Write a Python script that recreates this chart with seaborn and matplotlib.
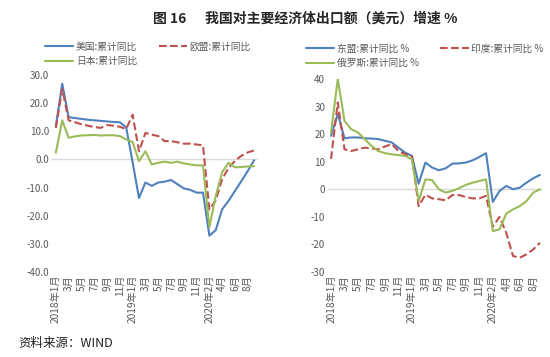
import numpy as np
import pandas as pd
import matplotlib
matplotlib.use('Agg')
import matplotlib.pyplot as plt
import seaborn as sns

sns.set_style('white')
plt.rcParams['font.family'] = ['Noto Sans CJK SC', 'DejaVu Sans']
plt.rcParams['axes.unicode_minus'] = False

# 月份（2020年1月与2月合并）
months = (['2018年1月'] + [f'{m}月' for m in range(2, 13)]
          + ['2019年1月'] + [f'{m}月' for m in range(2, 13)]
          + ['2020年2月'] + [f'{m}月' for m in range(3, 10)])

# 左图：美国、欧盟、日本 累计同比
us = [11.8, 26.9, 15.0, 14.7, 14.4, 14.1, 13.9, 13.7, 13.5, 13.3, 13.2, 11.4,
      -1.0, -13.7, -8.2, -9.4, -8.2, -7.9, -7.3, -8.8, -10.3, -10.8, -11.8, -11.8,
      -27.1, -25.1, -17.7, -14.7, -11.2, -7.7, -4.1, -0.3]
eu = [11.2, 25.0, 13.9, 13.2, 12.5, 12.0, 11.5, 11.2, 12.2, 12.0, 11.6, 10.8,
      15.9, 2.9, 9.4, 8.8, 8.3, 6.5, 6.5, 6.1, 5.6, 5.6, 5.3, 5.0,
      -17.8, -14.5, -7.0, -3.0, -0.5, 1.3, 2.5, 3.2]
jp = [2.4, 13.9, 7.7, 8.2, 8.5, 8.6, 8.7, 8.5, 8.6, 8.6, 8.3, 7.1,
      6.2, -0.6, 2.9, -1.8, -1.2, -0.8, -1.2, -0.8, -1.4, -1.8, -2.1, -2.1,
      -24.0, -13.0, -4.5, -1.2, -2.8, -2.7, -2.5, -2.4]

# 右图：东盟、印度、俄罗斯 累计同比
asean = [19.4, 27.3, 18.5, 18.8, 18.8, 18.5, 18.4, 18.2, 17.6, 17.0, 15.1, 13.3,
         12.1, 2.0, 9.7, 7.9, 6.9, 7.6, 9.3, 9.4, 9.7, 10.5, 11.7, 13.1,
         -4.6, -0.6, 1.2, 0.0, 0.6, 2.4, 4.0, 5.2]
india = [11.0, 31.5, 14.5, 13.9, 14.5, 15.1, 14.8, 14.5, 15.5, 16.4, 13.9, 12.7,
         12.1, -6.1, -2.0, -3.3, -3.6, -4.0, -2.1, -2.1, -2.8, -3.3, -3.3, -2.4,
         -13.6, -10.0, -15.8, -24.2, -24.8, -23.6, -21.8, -19.4]
russia = [20.6, 40.0, 24.8, 21.8, 20.6, 18.2, 15.7, 13.9, 13.1, 12.7, 12.4, 12.1,
          10.9, -4.3, 3.6, 3.3, 0.0, -1.2, -0.6, 0.4, 1.6, 2.4, 3.0, 3.6,
          -15.2, -14.5, -8.8, -7.3, -6.1, -4.3, -1.2, 0.0]

BLUE = '#4F81BD'
RED = '#C0504D'
GREEN = '#9BBB59'
GRAY = '#595959'

W, H = 550, 357
fig = plt.figure(figsize=(W / 100, H / 100), dpi=100)


def px_axes(x0, y0, x1, y1):
    # 像素坐标 -> figure 坐标
    return fig.add_axes([x0 / W, 1 - y1 / H, (x1 - x0) / W, (y1 - y0) / H])


def draw_panel(ax, series, ylim, yticks, yfmt, xlim):
    x = np.arange(len(months))
    handles = {}
    for name, vals, color, ls in series:
        sns.lineplot(x=x, y=vals, ax=ax, color=color, linewidth=1.5,
                     linestyle=ls, label=name, legend=False)
        handles[name] = ax.lines[-1]
    ax.axhline(0, color='#D9D9D9', linewidth=1, zorder=0)
    ax.set_ylim(*ylim)
    ax.set_xlim(*xlim)
    ax.set_yticks(yticks)
    ax.set_yticklabels([yfmt.format(v) for v in yticks], fontsize=7, color=GRAY)
    ax.set_xticks(x[::2])
    ax.set_xticklabels(months[::2], rotation=90, fontsize=7.3, color=GRAY)
    ax.tick_params(axis='both', length=0, pad=2)
    for s in ax.spines.values():
        s.set_visible(False)
    ax.set_xlabel('')
    ax.set_ylabel('')
    return handles


# 左图
ax1 = px_axes(52, 75, 258, 272)
h1 = draw_panel(ax1, [('美国:累计同比', us, BLUE, '-'),
                      ('欧盟:累计同比', eu, RED, '--'),
                      ('日本:累计同比', jp, GREEN, '-')],
                (-40, 30), list(range(-40, 31, 10)), '{:.1f}', (-0.6, 31.6))
order1 = ['美国:累计同比', '日本:累计同比', '欧盟:累计同比']
fig.legend([h1[k] for k in order1], order1, loc='upper left',
           bbox_to_anchor=(40 / W, 1 - 37 / H), ncol=2, frameon=False,
           fontsize=7, handlelength=2.9, handletextpad=0.3, columnspacing=2.2,
           labelspacing=0.45, borderpad=0, labelcolor=GRAY)

# 右图
ax2 = px_axes(328, 79, 543, 272)
h2 = draw_panel(ax2, [('东盟:累计同比 %', asean, BLUE, '-'),
                      ('印度:累计同比 %', india, RED, '--'),
                      ('俄罗斯:累计同比 %', russia, GREEN, '-')],
                (-30, 40), list(range(-30, 41, 10)), '{:d}', (-0.45, 31.45))
order2 = ['东盟:累计同比 %', '俄罗斯:累计同比 %', '印度:累计同比 %']
fig.legend([h2[k] for k in order2], order2, loc='upper left',
           bbox_to_anchor=(301 / W, 1 - 39 / H), ncol=2, frameon=False,
           fontsize=7, handlelength=2.9, handletextpad=0.3, columnspacing=2.2,
           labelspacing=0.45, borderpad=0, labelcolor=GRAY)

# 标题与资料来源
fig.text(153 / W, 1 - 19 / H, '图 16', fontsize=10, fontweight='bold',
         va='center', ha='left')
fig.text(205 / W, 1 - 19 / H, '我国对主要经济体出口额（美元）增速 %', fontsize=10,
         fontweight='bold', va='center', ha='left')
fig.text(18 / W, 1 - 343 / H, '资料来源：WIND', fontsize=9, va='center',
         ha='left', color='#222222')

fig.savefig('out.png', dpi=100)
